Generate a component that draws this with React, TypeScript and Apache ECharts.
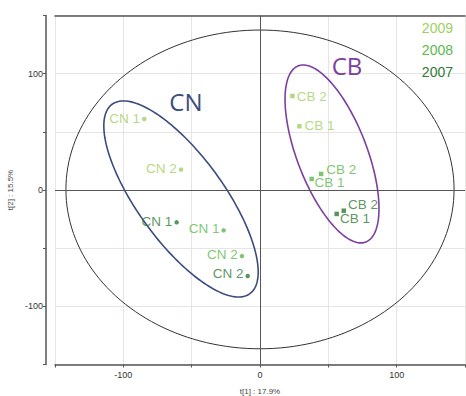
import React, { useEffect, useRef } from "react";
import * as echarts from "echarts";

// ---- data ----
const years = ["2009", "2008", "2007"];
const sampleNames = ["CN 1", "CN 2", "CB 1", "CB 2"];
const x2009 = [-84.7, -57.8, 28.8, 23.7];
const y2009 = [61.0, 17.5, 54.8, 80.8];
const x2008 = [-26.6, -13.2, 37.8, 44.7];
const y2008 = [-34.7, -56.8, 9.5, 13.8];
const x2007 = [-61.0, -9.0, 56.1, 61.3];
const y2007 = [-27.8, -73.9, -20.6, -17.8];
const groupTitles = ["CN", "CB"];
const xTicks = [-150, -100, -50, 0, 50, 100, 150];
const xAxisName = "t[1] : 17.9%";
const yAxisName = "t[2] : 15.5%";

// ---- styling ----
const yearColors = ["#9fcf62", "#5db84d", "#2f7a36"];
const labelOffsets: Record<string, number[][]> = {
  "2009": [[0, -1], [0, -1], [1, -1], [0, 0]],
  "2008": [[0, -2], [0, -2], [-1.5, 4], [1, -4]],
  "2007": [[0, -1], [0, -2], [-1, 5], [0, -6]],
};
// ellipse geometry (center, semi-axis vectors) in data units
const ELLIPSES = [
  { c: [0, 0.5], u: [142, 0], v: [0, 137], color: "#333333", width: 1, title: -1, tpos: [0, 0] },
  { c: [-57.8, -7.7], u: [50.4, -81.4], v: [-25.5, -21.8], color: "#3b4c7e", width: 1.6, title: 0, tpos: [-54.2, 76.5] },
  { c: [52.7, 31.0], u: [24.7, -75.7], v: [-23.9, -10.8], color: "#7b3f9e", width: 1.6, title: 1, tpos: [63.7, 106.6] },
];

const FONT = '"Liberation Sans", Arial, sans-serif';

export default function App() {
  const ref = useRef<HTMLDivElement>(null);
  useEffect(() => {
    document.body.style.margin = "0";
    if (!ref.current) return;
    const chart = echarts.init(ref.current, undefined, { renderer: "svg" });
    const xs = [x2009, x2008, x2007];
    const ys = [y2009, y2008, y2007];

    const scatterSeries = years.map((yr, yi) => ({
      type: "scatter",
      name: yr,
      z: 5,
      symbolSize: 4.5,
      itemStyle: { color: yearColors[yi] },
      emphasis: { disabled: true },
      data: sampleNames.map((nm, i) => {
        const isCN = nm.startsWith("CN");
        return {
          value: [xs[yi][i], ys[yi][i]],
          name: nm,
          symbol: isCN ? "circle" : "rect",
          label: {
            show: true,
            formatter: nm,
            position: isCN ? "left" : "right",
            distance: 2,
            offset: labelOffsets[yr][i],
            color: yearColors[yi],
            fontSize: 13.5,
            fontFamily: FONT,
          },
        };
      }),
      ...(yi === 0
        ? {
            markLine: {
              silent: true,
              symbol: ["none", "none"],
              label: { show: false },
              lineStyle: { color: "#555", type: "solid", width: 1 },
              data: [{ xAxis: 0 }, { yAxis: 0 }],
            },
          }
        : {}),
    }));

    const labelFmt = (v: number) => (v % 100 === 0 ? String(v) : "");

    chart.setOption({
      animation: false,
      grid: { left: 55, right: 1, top: 15.5, bottom: 31.5, containLabel: false, outerBoundsMode: "none" },
      legend: {
        orient: "vertical",
        right: 8,
        top: 21,
        padding: 0,
        align: "right",
        itemWidth: 0,
        itemHeight: 14,
        itemGap: 8,
        icon: "rect",
        selectedMode: false,
        itemStyle: { opacity: 0 },
        textStyle: { fontSize: 14, lineHeight: 14, fontFamily: FONT },
        data: years.map((y, i) => ({ name: y, textStyle: { color: yearColors[i], fontSize: 14, lineHeight: 14 } })),
      },
      xAxis: [
        {
          type: "value",
          min: xTicks[0],
          max: xTicks[xTicks.length - 1],
          interval: 50,
          position: "bottom",
          name: xAxisName,
          nameLocation: "middle",
          nameGap: 23,
          nameTextStyle: { fontSize: 8, color: "#444", fontFamily: FONT },
          axisLine: { show: true, onZero: false, lineStyle: { color: "#555", width: 1.5 } },
          axisTick: { show: true, length: 3, lineStyle: { color: "#555" } },
          axisLabel: { formatter: labelFmt, fontSize: 9, color: "#333", margin: 6, fontFamily: FONT },
          splitLine: { show: true, lineStyle: { color: "#e9e4e4", width: 1 } },
        },
        {
          type: "value",
          min: xTicks[0],
          max: xTicks[xTicks.length - 1],
          interval: 50,
          position: "top",
          axisLine: { show: true, onZero: false, lineStyle: { color: "#555", width: 1.5 } },
          axisTick: { show: false },
          axisLabel: { show: false },
          splitLine: { show: false },
        },
      ],
      yAxis: {
        type: "value",
        min: -150,
        max: 150,
        interval: 50,
        offset: 9,
        name: yAxisName,
        nameLocation: "middle",
        nameRotate: 90,
        nameGap: 24,
        nameTextStyle: { fontSize: 8, color: "#444", fontFamily: FONT },
        axisLine: { show: true, onZero: false, lineStyle: { color: "#555", width: 1.5 } },
        axisTick: { show: true, length: 3, lineStyle: { color: "#555" } },
        axisLabel: { formatter: labelFmt, fontSize: 9, color: "#333", margin: 3, fontFamily: FONT },
        splitLine: { show: true, lineStyle: { color: "#e9e4e4", width: 1 } },
      },
      series: [
        {
          type: "custom",
          z: 3,
          silent: true,
          clip: false,
          data: ELLIPSES.map((e) => e.c),
          renderItem: (params: any, api: any) => {
            const e = ELLIPSES[params.dataIndex];
            const pts: number[][] = [];
            const N = 180;
            for (let i = 0; i < N; i++) {
              const t = (2 * Math.PI * i) / N;
              pts.push(
                api.coord([
                  e.c[0] + e.u[0] * Math.cos(t) + e.v[0] * Math.sin(t),
                  e.c[1] + e.u[1] * Math.cos(t) + e.v[1] * Math.sin(t),
                ])
              );
            }
            const children: any[] = [
              {
                type: "polygon",
                shape: { points: pts },
                style: { fill: "none", stroke: e.color, lineWidth: e.width },
              },
            ];
            if (e.title >= 0) {
              const p = api.coord(e.tpos);
              children.push({
                type: "text",
                x: p[0],
                y: p[1],
                style: {
                  text: groupTitles[e.title],
                  fill: e.color,
                  fontSize: 24,
                  fontFamily: '"Open Sans", "Noto Sans", sans-serif',
                  align: "center",
                  verticalAlign: "middle",
                },
              });
            }
            return { type: "group", children };
          },
        },
        ...scatterSeries,
      ],
    });
    return () => chart.dispose();
  }, []);
  return <div ref={ref} style={{ width: 466, height: 396 }} />;
}
